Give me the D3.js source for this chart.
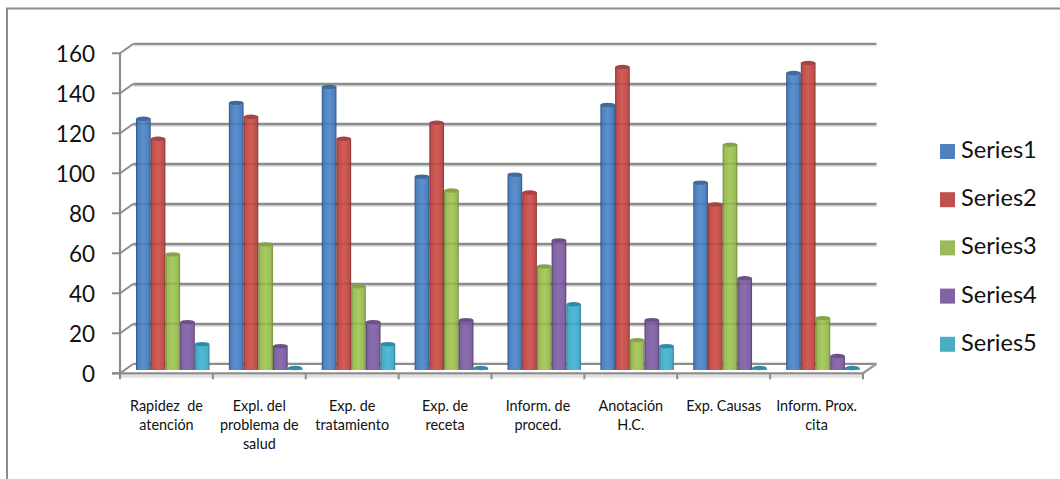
<!DOCTYPE html>
<html>
<head>
<meta charset="utf-8">
<script src="https://d3js.org/d3.v7.min.js"></script>
<style>
html,body{margin:0;padding:0;background:#fff}
svg{display:block}
text{font-family:Lato,"Open Sans",sans-serif;fill:#111}
</style>
</head>
<body>
<svg id="chart" width="1060" height="479"></svg>
<script>
const categories = [
  ["Rapidez  de","atención"],
  ["Expl. del","problema de","salud"],
  ["Exp. de","tratamiento"],
  ["Exp. de","receta"],
  ["Inform. de","proced."],
  ["Anotación","H.C."],
  ["Exp. Causas"],
  ["Inform. Prox.","cita"]
];
const seriesNames = ["Series1","Series2","Series3","Series4","Series5"];
const series1 = [126,134,142,97,98,133,94,149];
const series2 = [116,127,116,124,89,152,83,154];
const series3 = [58,63,42,90,52,15,113,26];
const series4 = [24,12,24,25,65,25,46,7];
const series5 = [13,1,13,1,33,12,1,1];
const yTicks = [0,20,40,60,80,100,120,140,160];

const allSeries = [series1,series2,series3,series4,series5];
const palette = [
  {main:"#4f81bd",light:"#5a90d0",dark:"#2f5583",top:"#41699c"},
  {main:"#c0504d",light:"#d25c58",dark:"#853432",top:"#a54441"},
  {main:"#9bbb59",light:"#a9cb60",dark:"#6d8a38",top:"#86a24c"},
  {main:"#8064a2",light:"#8b6db0",dark:"#56416f",top:"#6a5287"},
  {main:"#4bacc6",light:"#4fbbd8",dark:"#2c7f96",top:"#328ba4"}
];

const svg = d3.select("#chart");
const depthX = 13.5, depthY = 9.5;

const y = d3.scaleLinear().domain([0,160]).range([373.3,53.3]);
const yBar = d3.scaleLinear().domain([0,160]).range([370,51]);
const xCat = d3.scaleBand().domain(d3.range(categories.length)).range([120,863]);
const xSer = d3.scaleBand().domain(d3.range(seriesNames.length)).range([16,89.5]);

// outer frame of the chart area
svg.append("path").attr("d","M7,479V8.5H1060")
  .attr("fill","none").attr("stroke","#8c8c8c").attr("stroke-width",2);

// gradients giving each column its rounded shading
const defs = svg.append("defs");
palette.forEach((c,i)=>{
  const g = defs.append("linearGradient").attr("id","cyl"+i).attr("x1",0).attr("x2",1).attr("y1",0).attr("y2",0);
  [[0,c.dark],[0.13,c.main],[0.5,c.light],[0.87,c.main],[1,c.dark]].forEach(([o,col])=>
    g.append("stop").attr("offset",o).attr("stop-color",col));
});

// back wall gridlines
const grid = svg.append("g");
yTicks.forEach(t=>{
  const yb = y(t)-depthY;
  if(t>0){
    grid.append("line").attr("x1",120+depthX).attr("x2",863+depthX).attr("y1",yb+2).attr("y2",yb+2)
      .attr("stroke",t===160?"#e4e4e4":"#c6c6c6").attr("stroke-width",1.5);
  }
  grid.append("line").attr("x1",120+depthX).attr("x2",863+depthX).attr("y1",yb).attr("y2",yb)
    .attr("stroke","#8c8c8c").attr("stroke-width",2.2);
  // side wall diagonal
  grid.append("line").attr("x1",120).attr("x2",120+depthX).attr("y1",y(t)).attr("y2",yb)
    .attr("stroke","#8c8c8c").attr("stroke-width",2);
});

// floor: front edge with soft strip beneath, right side edge
grid.append("line").attr("x1",120).attr("x2",863).attr("y1",y(0)+3).attr("y2",y(0)+3)
  .attr("stroke","#e2e2e2").attr("stroke-width",3);
grid.append("line").attr("x1",863).attr("x2",863+depthX).attr("y1",y(0)).attr("y2",y(0)-depthY)
  .attr("stroke","#9a9a9a").attr("stroke-width",2.4);

// columns, each with a faint band where a wall line passes behind it
const bars = svg.append("g");
allSeries.forEach((vals,s)=>{
  vals.forEach((v,c)=>{
    const x0 = xCat(c)+xSer(s), w = xSer.bandwidth();
    const top = yBar(v), base = yBar(0), rx = w/2, ry = 2.2;
    const g = bars.append("g");
    g.append("rect").attr("x",x0).attr("y",top).attr("width",w).attr("height",base-top)
      .attr("fill",`url(#cyl${s})`);
    yTicks.slice(1).forEach(t=>{
      const yb = y(t)-depthY;
      if(yb>top+3 && yb<base){
        g.append("rect").attr("x",x0).attr("y",yb-1.2).attr("width",w).attr("height",2.4)
          .attr("fill","#000").attr("fill-opacity",0.08);
      }
    });
    g.append("ellipse").attr("cx",x0+rx).attr("cy",top).attr("rx",rx).attr("ry",ry)
      .attr("fill",palette[s].top);
  });
});

// front axes
const axes = svg.append("g");
axes.append("line").attr("x1",120).attr("x2",120).attr("y1",y(160)).attr("y2",y(0)+5)
  .attr("stroke","#8c8c8c").attr("stroke-width",2.2);
axes.append("line").attr("x1",112).attr("x2",863).attr("y1",y(0)).attr("y2",y(0))
  .attr("stroke","#8c8c8c").attr("stroke-width",2.2);
yTicks.forEach(t=>{
  axes.append("line").attr("x1",112).attr("x2",120).attr("y1",y(t)).attr("y2",y(t))
    .attr("stroke","#8c8c8c").attr("stroke-width",2);
  axes.append("text").attr("x",95).attr("y",y(t)+9).attr("text-anchor","end")
    .attr("font-size",22.5).text(t);
});
d3.range(categories.length+1).forEach(i=>{
  const x = i<categories.length ? xCat(i) : 863;
  axes.append("line").attr("x1",x).attr("x2",x).attr("y1",y(0)).attr("y2",y(0)+6)
    .attr("stroke","#8c8c8c").attr("stroke-width",2);
});

// category labels
categories.forEach((lines,i)=>{
  const cx = xCat(i)+xCat.bandwidth()/2;
  lines.forEach((l,k)=>{
    axes.append("text").attr("x",cx).attr("y",410.5+k*19.3).attr("text-anchor","middle")
      .attr("font-size",14.4).style("white-space","pre").text(l);
  });
});

// legend
seriesNames.forEach((n,i)=>{
  const ly = 144+i*48.2;
  svg.append("rect").attr("x",940).attr("y",ly).attr("width",15).attr("height",15).attr("fill",palette[i].main);
  svg.append("text").attr("x",961).attr("y",ly+14).attr("font-size",23.6).text(n);
});
</script>
</body>
</html>
